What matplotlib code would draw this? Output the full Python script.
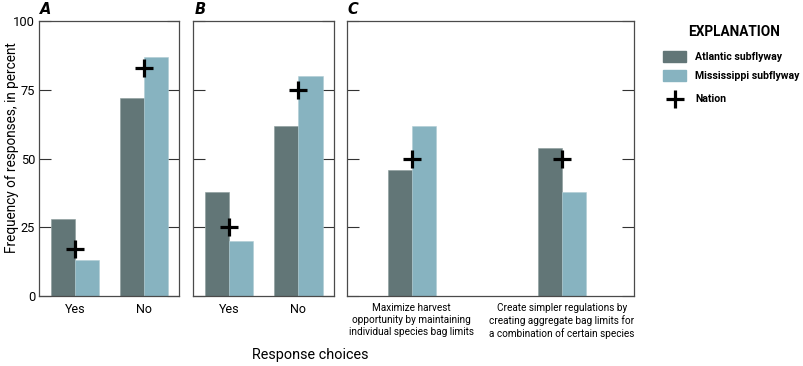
import matplotlib
matplotlib.use("Agg")
import matplotlib.pyplot as plt
from matplotlib.patches import Rectangle
from matplotlib.lines import Line2D
import numpy as np

plt.rcParams['font.family'] = ['Roboto', 'DejaVu Sans']

cats_A = ["Yes", "No"]
atl_A = [28, 72]
mis_A = [13, 87]
nat_A = [17, 83]

cats_B = ["Yes", "No"]
atl_B = [38, 62]
mis_B = [20, 80]
nat_B = [25, 75]

cats_C = ["Maximize harvest\nopportunity by maintaining\nindividual species bag limits",
          "Create simpler regulations by\ncreating aggregate bag limits for\na combination of certain species"]
atl_C = [46, 54]
mis_C = [62, 38]
nat_C = [50, 50]

yticks = [0, 25, 50, 75, 100]

c_atl = "#627677"
c_mis = "#87b3c0"
spine_c = "#4a4a4a"

fig = plt.figure(figsize=(8.04, 3.66), dpi=100)

bottom = 1 - 296 / 366
height = (296 - 21.3) / 366
panels = [
    ("A", 39.3, 139.7, cats_A, atl_A, mis_A, nat_A, (-0.52, 1.51), 0.35, 9),
    ("B", 193.3, 140.4, cats_B, atl_B, mis_B, nat_B, (-0.52, 1.51), 0.35, 9),
    ("C", 346.7, 287.3, cats_C, atl_C, mis_C, nat_C, (-0.433, 1.482), 0.16, 7.2),
]

for i, (lab, x0, w, cats, atl, mis, nat, xl, bw, fs) in enumerate(panels):
    ax = fig.add_axes([x0 / 804, bottom, w / 804, height])
    x = np.arange(len(cats))
    ax.bar(x - bw / 2, atl, bw, color=c_atl, edgecolor="#8a9a9a", linewidth=0.4, zorder=2)
    ax.bar(x + bw / 2, mis, bw, color=c_mis, edgecolor="#b0ccd4", linewidth=0.4, zorder=2)
    ax.plot(x, nat, linestyle="none", marker="+", color="black", markersize=12.5,
            markeredgewidth=2.3, zorder=3)
    ax.set_xlim(*xl)
    ax.set_ylim(0, 100)
    ax.set_xticks(x)
    ax.set_xticklabels(cats, fontsize=fs, linespacing=1.25)
    ax.tick_params(axis="x", length=0, pad=5)
    ax.set_yticks(yticks)
    ax.tick_params(axis="y", direction="in", length=8.6, width=0.8, color="#333333",
                   left=True, right=True, labelsize=9.3, pad=3)
    if i > 0:
        ax.set_yticklabels([])
    for s in ax.spines.values():
        s.set_color(spine_c)
        s.set_linewidth(0.9)
    fig.text((x0 + 1) / 804, 1 - 10 / 366, lab, fontsize=10.5, fontweight="bold",
             fontstyle="italic", va="center", ha="left", family=["DejaVu Sans"])

fig.text(12 / 804, 1 - 148 / 366, "Frequency of responses, in percent", fontsize=9.8,
         rotation=90, ha="center", va="center")
fig.text(310 / 804, 1 - 355 / 366, "Response choices", fontsize=10.4, ha="center", va="center")

# Legend / explanation
fig.text(734 / 804, 1 - 32 / 366, "EXPLANATION", fontsize=9.8, fontweight="bold",
         ha="center", va="center")
fig.patches.append(Rectangle((663 / 804, 1 - 62 / 366), 23 / 804, 11 / 366,
                             transform=fig.transFigure, color=c_atl, figure=fig))
fig.patches.append(Rectangle((663 / 804, 1 - 81 / 366), 23 / 804, 11 / 366,
                             transform=fig.transFigure, color=c_mis, figure=fig))
fig.lines.append(Line2D([675 / 804], [1 - 99 / 366], transform=fig.transFigure,
                        marker="+", color="black", markersize=12.5, markeredgewidth=2.3,
                        linestyle="none", figure=fig))
fig.text(695 / 804, 1 - 57 / 366, "Atlantic subflyway", fontsize=7.6, fontweight="bold", va="center")
fig.text(695 / 804, 1 - 76 / 366, "Mississippi subflyway", fontsize=7.6, fontweight="bold", va="center")
fig.text(695 / 804, 1 - 99 / 366, "Nation", fontsize=7.6, fontweight="bold", va="center")

fig.savefig("out.png", dpi=100)
